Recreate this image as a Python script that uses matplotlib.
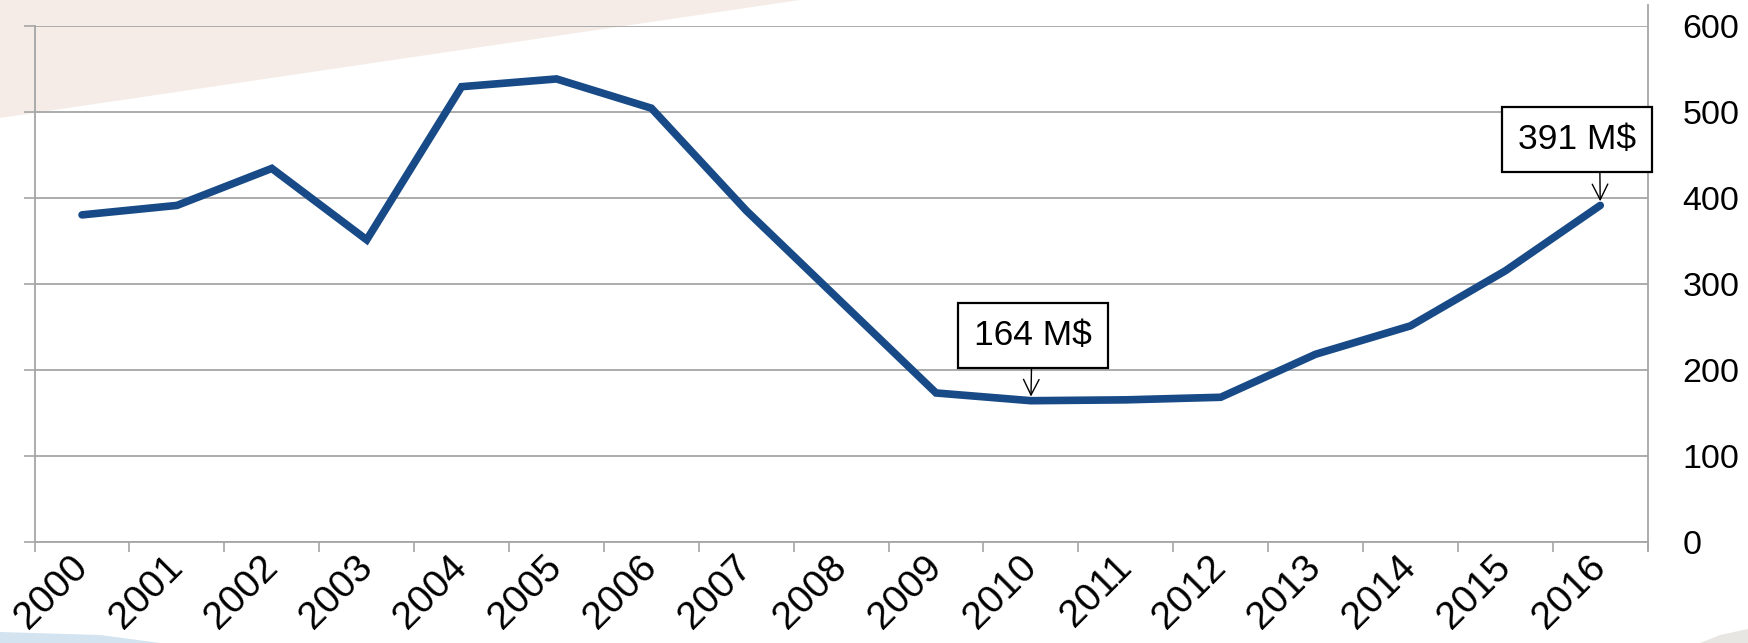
import matplotlib.pyplot as plt
import numpy as np
from matplotlib.patches import Polygon

plt.rcParams['font.family'] = ['Liberation Sans', 'DejaVu Sans']

years = ['2000', '2001', '2002', '2003', '2004', '2005', '2006', '2007', '2008',
         '2009', '2010', '2011', '2012', '2013', '2014', '2015', '2016']
values = [380, 391, 434, 351, 529, 538, 504, 385, 279,
          173, 164, 165, 168, 218, 251, 315, 391]
y_ticks = [0, 100, 200, 300, 400, 500, 600]

line_color = '#174a86'
grid_color = '#a6a6a6'
fs_y = 24.5
fs_x = 28
fs_box = 25.5

fig = plt.figure(figsize=(17.48, 6.43), dpi=100)

# background decoration
fig.patches.append(Polygon([[0, 1], [800 / 1748, 1], [0, 1 - 118 / 643]], closed=True,
                           transform=fig.transFigure, facecolor='#f5ece7', edgecolor='none', zorder=-10))
fig.patches.append(Polygon([[0, 0], [160 / 1748, 0], [100 / 1748, 8 / 643], [0, 11 / 643]], closed=True,
                           transform=fig.transFigure, facecolor='#d3e3ef', edgecolor='none', zorder=-10))
fig.patches.append(Polygon([[1700 / 1748, 0], [1, 0], [1, 14 / 643], [1720 / 1748, 8 / 643]], closed=True,
                           transform=fig.transFigure, facecolor='#e8e6e3', edgecolor='none', zorder=-10))

ax = fig.add_axes([34.6 / 1748, 1 - 541.8 / 643, (1647.7 - 34.6) / 1748, (541.8 - 25.6) / 643])
ax.set_facecolor('none')

x = np.arange(len(years))
ax.plot(x, values, color=line_color, linewidth=5.5, solid_capstyle='round',
        solid_joinstyle='miter', zorder=3)

ax.set_xlim(-0.5, len(years) - 0.5)
ax.set_ylim(0, 600)

# x axis: tick marks between categories, labels at the centres
ax.set_xticks(np.arange(-0.5, len(years), 1))
ax.set_xticklabels([])
ax.set_xticks(x, minor=True)
ax.set_xticklabels(years, minor=True, rotation=45, ha='right', va='center',
                   rotation_mode='anchor', fontsize=fs_x)
ax.tick_params(axis='x', which='major', direction='out', length=7.5, width=1.2, color=grid_color)
ax.tick_params(axis='x', which='minor', length=0, pad=14)

# y axis: tick marks on the left, labels on the right
ax.set_yticks(y_ticks)
ax.set_yticklabels([str(v) for v in y_ticks], fontsize=fs_y)
ax.tick_params(axis='y', left=True, right=False, labelleft=False, labelright=True,
               direction='out', length=8, width=1.2, color=grid_color, pad=17)

ax.grid(axis='y', color=grid_color, linewidth=1.3)
ax.set_axisbelow(True)

for side in ['top', 'right']:
    ax.spines[side].set_visible(False)
for side in ['left', 'bottom']:
    ax.spines[side].set_color(grid_color)
    ax.spines[side].set_linewidth(1.3)

# right border line of the plot area
ax.plot([1, 1], [-0.015, 1.04], transform=ax.transAxes, color=grid_color,
        linewidth=1.3, clip_on=False)

box = dict(boxstyle='square,pad=0.45', facecolor='white', edgecolor='black', linewidth=1.6)
arrow = dict(arrowstyle='->', color='black', linewidth=1.0, shrinkA=0, shrinkB=3,
             mutation_scale=28)

i_min = years.index('2010')
ax.annotate(f'{values[i_min]} M$', xy=(x[i_min], values[i_min]), xytext=(2, 65),
            textcoords='offset pixels', ha='center', va='center', fontsize=fs_box,
            bbox=box, arrowprops=dict(arrow, relpos=(0.49, 0)), zorder=5)

i_last = years.index('2016')
ax.annotate(f'{values[i_last]} M$', xy=(x[i_last], values[i_last]), xytext=(-23, 66),
            textcoords='offset pixels', ha='center', va='center', fontsize=fs_box,
            bbox=box, arrowprops=dict(arrow, relpos=(0.69, 0)), zorder=5)

fig.savefig('out.png', dpi=100)
